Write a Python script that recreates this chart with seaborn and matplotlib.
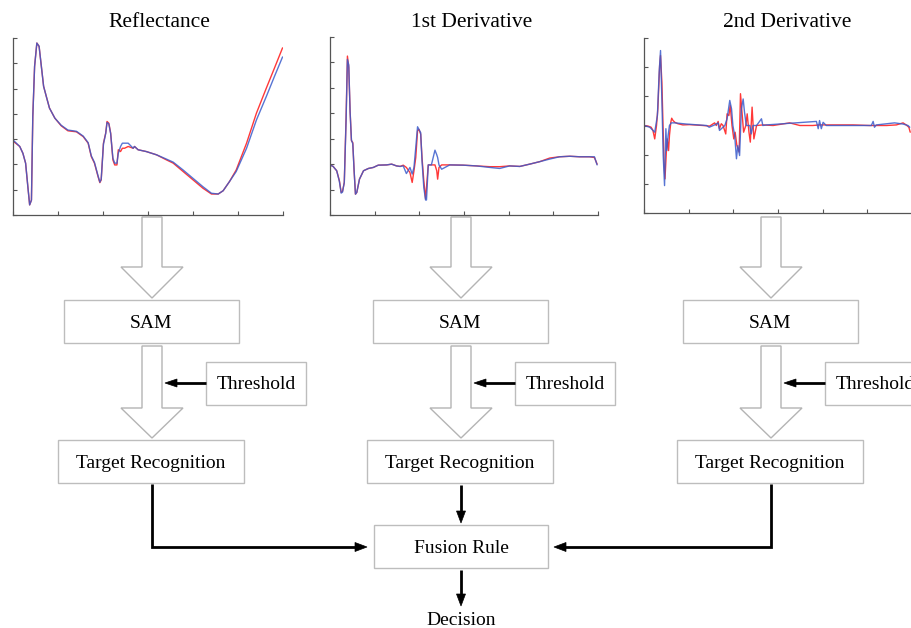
import numpy as np
import matplotlib
matplotlib.use("Agg")
import matplotlib.pyplot as plt
from matplotlib.patches import Polygon, Rectangle
import seaborn as sns

sns.set_style("white")
plt.rcParams['font.family'] = ['Liberation Serif', 'DejaVu Serif']
plt.rcParams['text.color'] = 'black'

# ---- spectra ----
# reflectance (red = reference, blue = test)
x1 = [1, 15, 22, 28, 33, 37, 41, 44, 48, 53, 58, 63, 68, 74, 81, 93, 107, 122, 141, 156,
      167, 174, 181, 189, 193, 196, 201, 206, 209, 213, 217, 222, 226, 231, 234, 239, 243, 248, 256, 267,
      270, 278, 296, 319, 341, 356, 378, 400, 422, 441, 456, 467, 481, 496, 519, 541, 563, 581, 599]
refl_red = [0.291, 0.271, 0.244, 0.205, 0.112, 0.040, 0.059, 0.390, 0.588, 0.680,
            0.667, 0.588, 0.509, 0.469, 0.423, 0.383, 0.353, 0.333, 0.329, 0.310,
            0.284, 0.231, 0.205, 0.152, 0.128, 0.139, 0.284, 0.324, 0.370, 0.363,
            0.324, 0.218, 0.198, 0.198, 0.258, 0.251, 0.264, 0.264, 0.271, 0.264,
            0.271, 0.258, 0.251, 0.238, 0.218, 0.205, 0.172, 0.139, 0.106, 0.083,
            0.083, 0.096, 0.132, 0.178, 0.284, 0.403, 0.502, 0.581, 0.661]
refl_blue = [0.295, 0.271, 0.244, 0.205, 0.112, 0.040, 0.059, 0.390, 0.588, 0.680,
             0.667, 0.588, 0.509, 0.469, 0.423, 0.383, 0.355, 0.336, 0.331, 0.312,
             0.286, 0.234, 0.208, 0.155, 0.130, 0.141, 0.280, 0.322, 0.366, 0.360,
             0.322, 0.225, 0.205, 0.205, 0.244, 0.271, 0.284, 0.284, 0.284, 0.264,
             0.271, 0.258, 0.251, 0.238, 0.221, 0.209, 0.178, 0.145, 0.112, 0.086,
             0.083, 0.096, 0.132, 0.172, 0.264, 0.376, 0.469, 0.548, 0.625]

# 1st derivative
x2 = [0, 7, 15, 21, 25, 28, 32, 36, 39, 42, 45, 48, 51, 54, 57, 60, 66, 75, 86, 97,
      108, 127, 138, 149, 157, 164, 171, 179, 184, 188, 192, 196, 199, 203, 206, 210, 214, 216, 220, 227,
      235, 239, 241, 244, 250, 268, 298, 328, 358, 380, 402, 425, 447, 470, 492, 514, 537, 559, 581, 592, 598]
d1_red = [-0.03, -0.09, -0.26, -0.65, -1.11, -1.07, -0.72, 1.83, 4.25, 3.80,
          2.09, 0.92, 0.85, -0.26, -1.18, -1.11, -0.59, -0.26, -0.17, -0.13,
          -0.04, -0.03, 0.00, -0.07, -0.09, -0.04, -0.13, -0.33, -0.72, -0.26,
          0.26, 1.31, 1.37, 1.18, 0.26, -0.65, -1.37, -0.92, -0.03, -0.03,
          -0.03, -0.26, -0.59, -0.13, -0.03, -0.03, -0.04, -0.07, -0.10, -0.10,
          -0.07, -0.09, 0.00, 0.10, 0.24, 0.29, 0.31, 0.29, 0.29, 0.26, 0.00]
d1_blue = [-0.03, -0.09, -0.26, -0.68, -1.14, -1.10, -0.72, 1.70, 4.12, 3.90,
           2.05, 0.95, 0.80, -0.26, -1.18, -1.11, -0.59, -0.26, -0.17, -0.13,
           -0.04, -0.03, 0.00, -0.07, -0.09, -0.07, -0.37, -0.13, -0.39, -0.13,
           0.65, 1.47, 1.37, 1.24, 0.13, -0.92, -1.41, -1.41, -0.03, -0.03,
           0.55, 0.37, 0.26, -0.03, -0.20, -0.03, -0.04, -0.07, -0.13, -0.17,
           -0.07, -0.09, 0.00, 0.10, 0.20, 0.29, 0.31, 0.29, 0.29, 0.29, -0.03]

# 2nd derivative
x3_red = [1, 9, 16, 20, 24, 28, 31, 35, 37, 40, 43, 45, 47, 50, 52, 55, 57, 60, 62, 65,
          69, 76, 87, 102, 132, 147, 158, 162, 166, 169, 173, 177, 183, 186, 190, 193, 197, 201, 204, 208,
          213, 216, 220, 223, 228, 231, 235, 238, 242, 246, 252, 266, 289, 326, 349, 378, 393, 431, 468, 505,
          543, 565, 580, 587, 593, 596]
d2_red = [0, -0.02, -0.06, -0.17, -0.46, 0, 0.57, 2.06, 2.40, 1.49,
          -0.23, -1.37, -1.83, -0.91, -0.46, -0.86, -0.34, 0.11, 0.25, 0.17,
          0.11, 0.06, 0.02, 0.03, 0, -0.02, 0.09, 0, 0.14, -0.11,
          0.06, 0, -0.29, 0.40, 0.34, 0.69, 0, -0.46, -0.23, -0.69,
          -0.91, 1.09, 0.34, -0.23, 0, 0.40, -0.23, -0.57, 0.63, -0.46,
          0, 0.02, 0, 0.09, 0, 0, 0.02, 0.02, 0.02, 0,
          0, 0.02, 0.09, 0.02, -0.06, -0.23]
x3_blue = [1, 13, 24, 30, 34, 37, 40, 43, 46, 49, 51, 54, 57, 61, 69, 95, 140, 146, 158, 166,
           169, 181, 186, 192, 196, 199, 203, 207, 210, 214, 218, 222, 225, 229, 237, 240, 244, 252, 263, 266,
           274, 386, 390, 393, 397, 401, 408, 509, 513, 516, 520, 561, 580, 591, 595]
d2_blue = [0, -0.06, -0.23, 0.34, 1.83, 2.57, 0.91, -1.03, -2.06, -0.11,
           -0.86, -0.34, 0, 0.09, 0.09, 0.05, 0, -0.06, 0.02, 0.09,
           -0.17, 0, 0.23, 0.86, 0.57, 0, -0.34, -1.14, -0.69, -1.03,
           0.57, 0.91, 0.46, 0, 0, -0.29, 0, 0, 0.23, 0,
           0.02, 0.14, -0.11, 0.17, -0.11, 0.11, 0, 0, 0.14, -0.06,
           0.02, 0.09, 0.05, 0, -0.06]

titles = ["Reflectance", "1st Derivative", "2nd Derivative"]
box_sam = "SAM"
box_thr = "Threshold"
box_tgt = "Target Recognition"
box_fus = "Fusion Rule"
box_dec = "Decision"

W, H = 912, 628
fig = plt.figure(figsize=(W / 100, H / 100), dpi=100)

# overlay in pixel coordinates for the flowchart
ov = fig.add_axes([0, 0, 1, 1])
ov.set_xlim(0, W)
ov.set_ylim(H, 0)
ov.axis('off')

RED = '#ff3838'
BLUE = '#3a5ccc'
GRAY = '#b4b4b4'


def px_axes(left, right, top, bottom):
    return fig.add_axes([left / W, 1 - bottom / H, (right - left) / W, (bottom - top) / H])


def style(ax, ylim, yticks):
    ax.set_xlim(0, 600)
    ax.set_ylim(*ylim)
    ax.set_xticks(np.arange(0, 601, 100))
    ax.set_yticks(yticks)
    ax.set_xticklabels([])
    ax.set_yticklabels([])
    ax.set_xlabel('')
    ax.set_ylabel('')
    ax.tick_params(bottom=True, left=True, direction='in', length=3, width=0.8, color='#555555')
    for s in ['top', 'right']:
        ax.spines[s].set_visible(False)
    for s in ['left', 'bottom']:
        ax.spines[s].set_color('#555555')
        ax.spines[s].set_linewidth(0.9)
    ax.patch.set_alpha(0)


ax1 = px_axes(13, 283, 38, 215)
sns.lineplot(x=x1, y=refl_red, ax=ax1, color=RED, lw=1)
sns.lineplot(x=x1, y=refl_blue, ax=ax1, color=BLUE, lw=1, alpha=0.85)
style(ax1, (0, 0.7), np.arange(0, 0.71, 0.1))

ax2 = px_axes(330, 598, 37, 215)
sns.lineplot(x=x2, y=d1_red, ax=ax2, color=RED, lw=1)
sns.lineplot(x=x2, y=d1_blue, ax=ax2, color=BLUE, lw=1, alpha=0.85)
style(ax2, (-2, 5), np.arange(-2, 5.1, 1))

ax3 = px_axes(644, 912, 38, 213)
sns.lineplot(x=x3_red, y=d2_red, ax=ax3, color=RED, lw=1)
sns.lineplot(x=x3_blue, y=d2_blue, ax=ax3, color=BLUE, lw=1, alpha=0.85)
style(ax3, (-3, 3), np.arange(-3, 3.1, 1))

for tx, t in zip([159, 472, 787], titles):
    ov.text(tx, 27, t, ha='center', va='baseline', fontsize=15.5, color='black')


def hollow_arrow(c, y0, y1, y2):
    pts = [(c - 10, y0), (c + 10, y0), (c + 10, y1), (c + 31, y1), (c, y2), (c - 31, y1), (c - 10, y1)]
    ov.add_patch(Polygon(pts, closed=True, facecolor='white', edgecolor=GRAY, lw=1))


def box(x0, x1, y0, y1, text, base):
    ov.add_patch(Rectangle((x0, y0), x1 - x0, y1 - y0, facecolor='white', edgecolor='#bdbdbd', lw=1))
    ov.text((x0 + x1) / 2, base, text, ha='center', va='baseline', fontsize=14, color='black')


def black_path(xs, ys, head=12, half=4.5):
    # polyline ending with a filled triangular head at the last point
    x0, y0 = xs[-2], ys[-2]
    x1, y1 = xs[-1], ys[-1]
    d = np.hypot(x1 - x0, y1 - y0)
    ux, uy = (x1 - x0) / d, (y1 - y0) / d
    bx, by = x1 - ux * head, y1 - uy * head
    ov.plot(list(xs[:-1]) + [bx + ux * 2], list(ys[:-1]) + [by + uy * 2],
            color='black', lw=2, solid_joinstyle='miter', solid_capstyle='butt')
    tri = [(x1, y1), (bx - uy * half, by + ux * half), (bx + uy * half, by - ux * half)]
    ov.add_patch(Polygon(tri, closed=True, facecolor='black', edgecolor='black', lw=0.5))


cols = [152, 461, 771]
for c in cols:
    hollow_arrow(c, 217, 267, 298)
    box(c - 88, c + 87, 300, 343, box_sam, 328)
    hollow_arrow(c, 346, 408, 438)
    box(c + 54, c + 154, 362, 405, box_thr, 389)
    black_path([c + 54, c + 13], [383, 383], head=12, half=4)
    box(c - 94, c + 92, 440, 483, box_tgt, 468)

box(374, 548, 525, 568, box_fus, 553)

# connectors to the fusion rule
black_path([152, 152, 367], [484, 547, 547])
black_path([771, 771, 554], [484, 547, 547])
black_path([461, 461], [485, 523])
black_path([461, 461], [570, 606])
ov.text(461, 625, box_dec, ha='center', va='baseline', fontsize=14, color='black')

fig.savefig('out.png', dpi=100)
